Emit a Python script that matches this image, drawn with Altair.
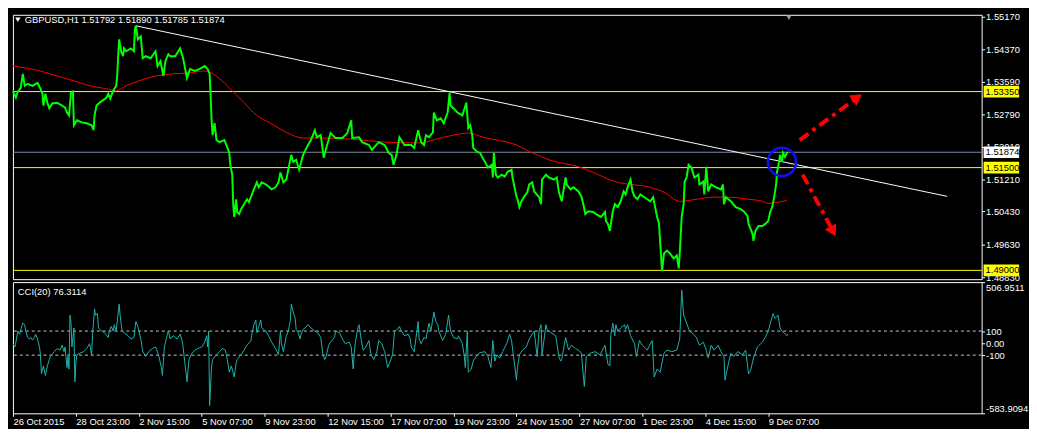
import altair as alt
import pandas as pd

# ---------------- data ----------------
TITLE = "GBPUSD,H1  1.51792 1.51890 1.51785 1.51874"
CCI_TITLE = "CCI(20) 76.3114"

X_LABELS = ["26 Oct 2015", "28 Oct 23:00", "2 Nov 15:00", "5 Nov 07:00", "9 Nov 23:00",
            "12 Nov 15:00", "17 Nov 07:00", "19 Nov 23:00", "24 Nov 15:00", "27 Nov 07:00",
            "1 Dec 23:00", "4 Dec 15:00", "9 Dec 07:00"]
X_TICK_BARS = [0, 64, 128, 192, 256, 320, 384, 448, 512, 576, 640, 704, 768]

PRICE_TICKS = [1.5517, 1.5437, 1.5359, 1.5279, 1.5201, 1.5121, 1.5043, 1.4963, 1.4883]
LEVELS = [1.5335, 1.5150, 1.4900]
CURRENT = 1.51874

CCI_TICKS = [506.9511, 100, 0, -100, -583.9094]
CCI_TICK_TEXT = ["506.9511", "100", "0.00", "-100", "-583.9094"]
CCI_LEVELS = [100, -100]

PRICE_BAR = [
    0, 3, 5, 8, 10, 12, 15, 20, 25, 28,
    30, 31, 33, 35, 37, 40, 45, 50, 53, 55,
    57, 59, 61, 62, 65, 70, 75, 80, 82, 83,
    85, 88, 91, 95, 97, 99, 102, 105, 106, 107,
    108, 110, 112, 113, 115, 120, 123, 124, 125, 127,
    130, 132, 135, 140, 145, 147, 150, 153, 155, 158,
    160, 165, 170, 173, 177, 180, 185, 190, 195, 198,
    200, 201, 202, 203, 205, 207, 210, 215, 217, 220,
    221, 223, 224, 225, 227, 228, 230, 232, 235, 238,
    240, 243, 245, 248, 250, 253, 257, 260, 263, 267,
    270, 272, 275, 278, 283, 285, 288, 291, 295, 300,
    303, 307, 309, 313, 316, 318, 323, 328, 335, 340,
    344, 345, 352, 355, 362, 365, 372, 378, 382, 385,
    387, 390, 393, 398, 405, 408, 412, 415, 418, 420,
    423, 427, 428, 431, 435, 438, 442, 444, 445, 448,
    452, 457, 461, 462, 463, 465, 467, 468, 472, 475,
    477, 480, 483, 487, 488, 489, 491, 493, 497, 500,
    503, 507, 508, 510, 512, 513, 515, 517, 520, 523,
    525, 528, 530, 535, 537, 538, 542, 545, 550, 553,
    555, 558, 562, 563, 567, 570, 575, 578, 580, 582,
    585, 590, 593, 598, 602, 603, 605, 607, 608, 610,
    612, 615, 618, 621, 623, 625, 628, 630, 632, 635,
    638, 642, 645, 648, 651, 653, 655, 657, 658, 659,
    660, 662, 665, 668, 672, 675, 677, 678, 680, 682,
    683, 685, 687, 690, 692, 693, 697, 698, 702, 703,
    705, 707, 710, 715, 720, 722, 723, 725, 730, 735,
    740, 743, 747, 748, 752, 753, 755, 758, 762, 765,
    768, 770, 772, 774, 776, 777, 779, 780, 782, 783,
    785, 787, 788]
PRICE_CLOSE = [
    1.5337, 1.5320, 1.5335, 1.5344, 1.5378, 1.5349, 1.5354, 1.5349, 1.5356, 1.5342,
    1.5330, 1.5301, 1.5330, 1.5308, 1.5294, 1.5306, 1.5308, 1.5301, 1.5296, 1.5284,
    1.5277, 1.5332, 1.5335, 1.5253, 1.5265, 1.5260, 1.5258, 1.5253, 1.5241, 1.5277,
    1.5301, 1.5308, 1.5313, 1.5320, 1.5330, 1.5318, 1.5337, 1.5349, 1.5373, 1.5421,
    1.5462, 1.5433, 1.5421, 1.5440, 1.5433, 1.5440, 1.5433, 1.5486, 1.5495, 1.5462,
    1.5469, 1.5416, 1.5421, 1.5416, 1.5433, 1.5397, 1.5409, 1.5373, 1.5409, 1.5426,
    1.5421, 1.5421, 1.5440, 1.5416, 1.5368, 1.5390, 1.5385, 1.5390, 1.5397, 1.5390,
    1.5378, 1.5325, 1.5265, 1.5229, 1.5258, 1.5217, 1.5212, 1.5217, 1.5205, 1.5186,
    1.5157, 1.5133, 1.5061, 1.5030, 1.5073, 1.5042, 1.5037, 1.5049, 1.5061, 1.5073,
    1.5066, 1.5085, 1.5097, 1.5114, 1.5102, 1.5114, 1.5109, 1.5104, 1.5097, 1.5102,
    1.5114, 1.5138, 1.5114, 1.5121, 1.5181, 1.5164, 1.5169, 1.5145, 1.5181, 1.5205,
    1.5217, 1.5241, 1.5224, 1.5229, 1.5174, 1.5193, 1.5234, 1.5222, 1.5222, 1.5234,
    1.5265, 1.5222, 1.5224, 1.5212, 1.5205, 1.5193, 1.5212, 1.5205, 1.5186, 1.5181,
    1.5157, 1.5181, 1.5224, 1.5205, 1.5205, 1.5198, 1.5241, 1.5212, 1.5205, 1.5229,
    1.5224, 1.5236, 1.5284, 1.5265, 1.5270, 1.5258, 1.5284, 1.5332, 1.5301, 1.5294,
    1.5284, 1.5277, 1.5308, 1.5277, 1.5246, 1.5253, 1.5229, 1.5198, 1.5188, 1.5186,
    1.5176, 1.5164, 1.5150, 1.5157, 1.5126, 1.5186, 1.5133, 1.5126, 1.5133, 1.5128,
    1.5140, 1.5145, 1.5126, 1.5102, 1.5080, 1.5073, 1.5054, 1.5068, 1.5080, 1.5090,
    1.5109, 1.5114, 1.5092, 1.5078, 1.5061, 1.5121, 1.5133, 1.5126, 1.5121, 1.5126,
    1.5092, 1.5068, 1.5126, 1.5109, 1.5097, 1.5102, 1.5092, 1.5080, 1.5061, 1.5037,
    1.5044, 1.5042, 1.5037, 1.5030, 1.5042, 1.5020, 1.5013, 1.4996, 1.5013, 1.5044,
    1.5061, 1.5054, 1.5068, 1.5092, 1.5085, 1.5102, 1.5121, 1.5092, 1.5080, 1.5073,
    1.5085, 1.5078, 1.5073, 1.5068, 1.5078, 1.5054, 1.5030, 1.5013, 1.4972, 1.4936,
    1.4898, 1.4941, 1.4948, 1.4941, 1.4929, 1.4936, 1.4905, 1.4941, 1.5030, 1.5061,
    1.5116, 1.5126, 1.5157, 1.5150, 1.5133, 1.5126, 1.5133, 1.5109, 1.5116, 1.5085,
    1.5152, 1.5092, 1.5109, 1.5102, 1.5097, 1.5109, 1.5061, 1.5078, 1.5068, 1.5054,
    1.5049, 1.5044, 1.5032, 1.5013, 1.4989, 1.4972, 1.4996, 1.5008, 1.5008, 1.5013,
    1.5020, 1.5042, 1.5054, 1.5078, 1.5109, 1.5140, 1.5164, 1.5181, 1.5164, 1.5186,
    1.5176, 1.5186, 1.5187]

MA_BAR = [0, 28, 45, 62, 78, 95, 105, 115, 128, 145,
          162, 178, 195, 202, 215, 225, 235, 248, 262, 278,
          295, 315, 345, 378, 412, 438, 463, 478, 512, 528,
          545, 578, 595, 612, 628, 645, 662, 678, 695, 712,
          728, 748, 762, 768, 778, 787]
MA_VAL = [1.5397, 1.5385, 1.5373, 1.5361, 1.5349, 1.5342, 1.5337, 1.5349, 1.5361, 1.5373,
          1.5378, 1.5380, 1.5385, 1.5380, 1.5356, 1.5332, 1.5308, 1.5277, 1.5258, 1.5236,
          1.5222, 1.5222, 1.5219, 1.5212, 1.5210, 1.5224, 1.5234, 1.5224, 1.5205, 1.5186,
          1.5169, 1.5150, 1.5133, 1.5116, 1.5109, 1.5104, 1.5090, 1.5068, 1.5073, 1.5078,
          1.5078, 1.5073, 1.5068, 1.5063, 1.5066, 1.5070]

TREND_BAR = [125, 950]
TREND_PRICE = [1.5495, 1.5080]

CIRCLE_BAR = [782]
CIRCLE_PRICE = [1.5164]

ARROW_UP_BAR = [800, 857]
ARROW_UP_PRICE = [1.5217, 1.5318]
ARROW_DOWN_BAR = [803, 833]
ARROW_DOWN_PRICE = [1.5133, 1.4999]

CCI_BAR = [
    0, 2, 3, 5, 7, 8, 10, 12, 13, 15,
    17, 18, 20, 22, 23, 25, 27, 28, 29, 31,
    33, 35, 37, 38, 42, 45, 48, 50, 52, 53,
    55, 56, 57, 58, 59, 60, 62, 63, 64, 65,
    68, 72, 75, 78, 80, 81, 83, 84, 86, 87,
    90, 93, 97, 98, 100, 102, 103, 105, 108, 109,
    111, 113, 117, 120, 123, 125, 127, 130, 132, 135,
    138, 142, 145, 148, 151, 152, 154, 157, 158, 160,
    163, 167, 170, 172, 173, 175, 177, 179, 182, 185,
    188, 192, 195, 197, 198, 199, 200, 202, 203, 207,
    210, 213, 216, 218, 220, 222, 223, 225, 227, 228,
    232, 235, 238, 242, 243, 245, 247, 248, 250, 252,
    253, 257, 260, 263, 267, 270, 272, 273, 275, 278,
    280, 282, 283, 285, 287, 288, 290, 292, 293, 295,
    297, 300, 303, 307, 310, 313, 315, 317, 318, 321,
    323, 327, 328, 332, 335, 338, 342, 344, 346, 347,
    348, 351, 352, 354, 356, 358, 362, 364, 367, 370,
    372, 375, 378, 381, 383, 386, 388, 391, 393, 395,
    398, 402, 404,
    405, 408, 412, 413, 415, 418, 420, 423, 425, 428,
    430, 432, 433, 437, 440, 443, 445, 448, 452, 453,
    457, 459, 460, 462, 463, 466, 468, 472, 475, 480,
    483, 486, 488, 490, 492, 495, 498, 502, 505, 507,
    509, 512, 513, 515, 518, 522, 525, 528, 530, 533,
    535, 537, 538, 542, 543, 547, 552, 555, 557, 558,
    562, 565, 568, 572, 575, 578, 581, 583, 587, 592,
    597, 602, 605, 607, 608, 610, 612, 613, 615, 618,
    622, 623, 625, 628, 632, 634, 637, 640, 645, 650,
    652, 655, 658, 660, 662, 665, 670, 675, 678, 679,
    680, 682, 685, 688, 692, 695, 698, 702, 705, 707,
    710, 713, 717, 720, 723, 724, 727, 730, 733, 737,
    742, 745, 748, 750, 753, 757, 762, 765, 768, 772,
    773, 775, 778, 780, 782, 787, 788]
CCI_VAL = [
    -5, -32, 8, 100, 74, 113, 166, 153, 100, 47,
    34, 47, 26, 47, 74, 34, -32, -97, -255, -190,
    -269, -190, -137, -111, -71, -45, -58, -18, -71, -32,
    -203, -111, -216, 232, 179, -32, 126, -321, -163, -97,
    -84, -71, -45, -5, -97, 74, 284, 232, 245, 126,
    100, 87, 47, 100, 139, 100, 153, 100, 324, 232,
    100, 87, 61, 34, 47, 179, 139, 34, -71, -111,
    -71, -45, -32, -97, -203, -269, -32, 74, 100, 34,
    61, 34, 74, 21, -32, -176, -321, -137, -84, -58,
    -45, -32, 8, 61, -32, 100, -519, -190, -137, -97,
    -71, -45, -58, -137, -242, -190, -216, -282, -163, -137,
    -97, -58, -18, 21, 74, 153, 192, 87, 139, 192,
    126, 100, 61, 8, -45, -97, 100, -5, -71, 61,
    100, 179, 324, 258, 205, 113, 87, 34, 74, 113,
    126, 153, 126, 100, 87, 47, -84, -137, -124, -18,
    8, 47, 100, 87, 34, -5, 8, -32, -216, -84,
    -5, 139, 153, 34, -58, -45, 21, -97, -137, -71,
    21, -5, -71, -203, -163, -97, 100, 113, 139, 100,
    61, 74, 34,
    -32, -71, 179, 34, -5, 47, 34, 166, 100, 258,
    179, 153, 100, 21, 74, 232, 100, 47, 34, 61,
    -5, -111, -203, 100, -242, -216, -150, -97, -79, -71,
    -111, -203, 21, -150, -97, -124, -71, -5, 74, 21,
    -111, -308, -203, -97, -58, -32, 34, 74, 100, -111,
    100, 153, -97, 153, 113, 87, 61, -111, -150, -137,
    47, -58, -18, -45, -58, -84, -361, -111, -84, -71,
    -97, -18, -176, -190, 74, 166, 61, 153, 100, 126,
    153, 113, 153, 61, -5, -111, 21, -18, -58, 21,
    -282, -216, -242, -163, -84, -58, -71, -58, 34, 232,
    442, 232, 166, 100, 74, 47, -18, 8, -58, -124,
    -18, -58, -18, -71, -111, -308, -190, -84, -111, -71,
    -97, -58, -255, -229, -124, -32, 8, 47, 100, 219,
    245, 205, 232, 126, 100, 61, 76.3114]

# ---------------- styling ----------------
FONT = "Liberation Sans"
FS = 9.5
W = 982
H1 = 268
H2 = 133

price_df = pd.DataFrame({"bar": PRICE_BAR, "price": PRICE_CLOSE})
ma_df = pd.DataFrame({"bar": MA_BAR, "price": MA_VAL})
trend_df = pd.DataFrame({"bar": TREND_BAR, "price": TREND_PRICE})
circle_df = pd.DataFrame({"bar": CIRCLE_BAR, "price": CIRCLE_PRICE})
up_df = pd.DataFrame({"bar": ARROW_UP_BAR, "price": ARROW_UP_PRICE})
down_df = pd.DataFrame({"bar": ARROW_DOWN_BAR, "price": ARROW_DOWN_PRICE})
levels_df = pd.DataFrame({"price": LEVELS})
current_df = pd.DataFrame({"price": [CURRENT]})
boxes_df = pd.DataFrame({"price": LEVELS + [CURRENT],
                         "kind": ["level"] * len(LEVELS) + ["current"]})
cci_df = pd.DataFrame({"bar": CCI_BAR, "cci": CCI_VAL})
cci_lv_df = pd.DataFrame({"cci": CCI_LEVELS})
title_df = pd.DataFrame({"t": [TITLE]})
cci_title_df = pd.DataFrame({"t": [CCI_TITLE]})
shift_df = pd.DataFrame({"bar": [PRICE_BAR[-1] + 1]})

xscale = alt.Scale(domain=[0, 985], nice=False, zero=False)
yscale = alt.Scale(domain=[1.48786, 1.55218], nice=False, zero=False)
cscale = alt.Scale(domain=[CCI_TICKS[-1], CCI_TICKS[0]], nice=False, zero=False)

X1 = alt.X("bar:Q", scale=xscale, axis=None)
Y1 = alt.Y("price:Q", scale=yscale,
           axis=alt.Axis(orient="right", values=PRICE_TICKS, format=".5f", title=None,
                         grid=False, domain=False, tickColor="white", tickSize=3,
                         labelColor="white", labelFont=FONT, labelFontSize=FS,
                         labelPadding=1, labelOverlap=False, labelBound=False,
                         labelFlush=False))

lab_arr = "[" + ",".join("'%s'" % s for s in X_LABELS) + "]"
pos_arr = "[" + ",".join(str(v) for v in X_TICK_BARS) + "]"
X2 = alt.X("bar:Q", scale=xscale,
           axis=alt.Axis(orient="bottom", values=X_TICK_BARS, title=None, grid=False,
                         domain=False, tickColor="white", tickSize=3,
                         labelColor="white", labelFont=FONT, labelFontSize=FS,
                         labelAlign="left", labelBaseline="top", labelPadding=0,
                         labelOverlap=False, labelBound=False, labelFlush=False,
                         labelExpr=lab_arr + "[indexof(" + pos_arr + ", datum.value)]"))
cl_arr = "[" + ",".join("'%s'" % s for s in CCI_TICK_TEXT) + "]"
cp_arr = "[" + ",".join(str(v) for v in CCI_TICKS) + "]"
Y2 = alt.Y("cci:Q", scale=cscale,
           axis=alt.Axis(orient="right", values=CCI_TICKS, title=None, grid=False,
                         domain=False, tickColor="white", tickSize=3,
                         labelColor="white", labelFont=FONT, labelFontSize=FS,
                         labelPadding=1, labelOverlap=False, labelFlush=True,
                         labelExpr=cl_arr + "[indexof(" + cp_arr + ", datum.value)]"))

# ---------------- main panel ----------------
lev_rules = alt.Chart(levels_df).mark_rule(color="#ffff00", strokeWidth=1).encode(y=Y1)
cur_rule = alt.Chart(current_df).mark_rule(color="#8093a6", strokeWidth=1).encode(y=Y1)
trend = alt.Chart(trend_df).mark_line(color="white", strokeWidth=1).encode(x=X1, y=Y1)
ma = alt.Chart(ma_df).mark_line(color="#ff0000", strokeWidth=1,
                                interpolate="monotone").encode(x=X1, y=Y1)
price = alt.Chart(price_df).mark_line(color="#00ff00", strokeWidth=2).encode(x=X1, y=Y1)
circle = alt.Chart(circle_df).mark_point(shape="circle", size=820, filled=False,
                                         color="#1010ff", strokeWidth=2.5,
                                         opacity=1).encode(x=X1, y=Y1)
dash = [11, 5, 4, 5]
up_line = alt.Chart(up_df).mark_line(color="#ff0000", strokeWidth=4,
                                     strokeDash=dash).encode(x=X1, y=Y1)
down_line = alt.Chart(down_df).mark_line(color="#ff0000", strokeWidth=4,
                                         strokeDash=dash).encode(x=X1, y=Y1)
up_head = alt.Chart(up_df.tail(1)).mark_point(shape="triangle", filled=True,
                                              color="#ff0000", size=170, opacity=1,
                                              angle=54).encode(x=X1, y=Y1)
down_head = alt.Chart(down_df.tail(1)).mark_point(shape="triangle", filled=True,
                                                  color="#ff0000", size=170, opacity=1,
                                                  angle=152).encode(x=X1, y=Y1)
boxes = alt.Chart(boxes_df).mark_point(shape="M-1,-0.33H1V0.33H-1Z", filled=True,
                                       size=1296, opacity=1, strokeWidth=0).encode(
    x=alt.value(1002), y=Y1,
    fill=alt.Fill("kind:N", scale=alt.Scale(domain=["level", "current"],
                                            range=["#ffff00", "#ffffff"]), legend=None))
box_text = alt.Chart(boxes_df).mark_text(align="left", baseline="middle", color="black",
                                         font=FONT, fontSize=FS).encode(
    x=alt.value(986), y=Y1, text=alt.Text("price:Q", format=".5f"))
title_tri = alt.Chart(title_df).mark_point(shape="triangle-down", filled=True,
                                           color="white", size=30, opacity=1).encode(
    x=alt.value(5), y=alt.value(5))
title = alt.Chart(title_df).mark_text(align="left", baseline="middle", color="white",
                                      font=FONT, fontSize=FS).encode(
    x=alt.value(12), y=alt.value(5), text="t:N")
shift = alt.Chart(shift_df).mark_point(shape="triangle-down", filled=True,
                                       color="#9a9a9a", size=25, opacity=1).encode(
    x=X1, y=alt.value(3))

main = alt.layer(lev_rules, cur_rule, trend, ma, price, circle, up_line, down_line,
                 up_head, down_head, boxes, box_text, title_tri, title, shift
                 ).properties(width=W, height=H1)

# ---------------- CCI panel ----------------
cci_rules = alt.Chart(cci_lv_df).mark_rule(color="#c8c8c8", strokeWidth=1,
                                           strokeDash=[3, 3]).encode(y=Y2)
cci_line = alt.Chart(cci_df).mark_line(color="#20b2aa", strokeWidth=1).encode(x=X2, y=Y2)
cci_title = alt.Chart(cci_title_df).mark_text(align="left", baseline="middle",
                                              color="white", font=FONT,
                                              fontSize=FS).encode(
    x=alt.value(5), y=alt.value(10), text="t:N")
cci = alt.layer(cci_rules, cci_line, cci_title).properties(width=W, height=H2)

chart = alt.vconcat(main, cci, spacing=3, bounds="flush", padding=0
                    ).configure(background="#000000").configure_view(
    stroke="#ffffff", strokeWidth=1, fill="#000000")

chart.save("out.html", embed_options={"renderer": "svg", "actions": False})
